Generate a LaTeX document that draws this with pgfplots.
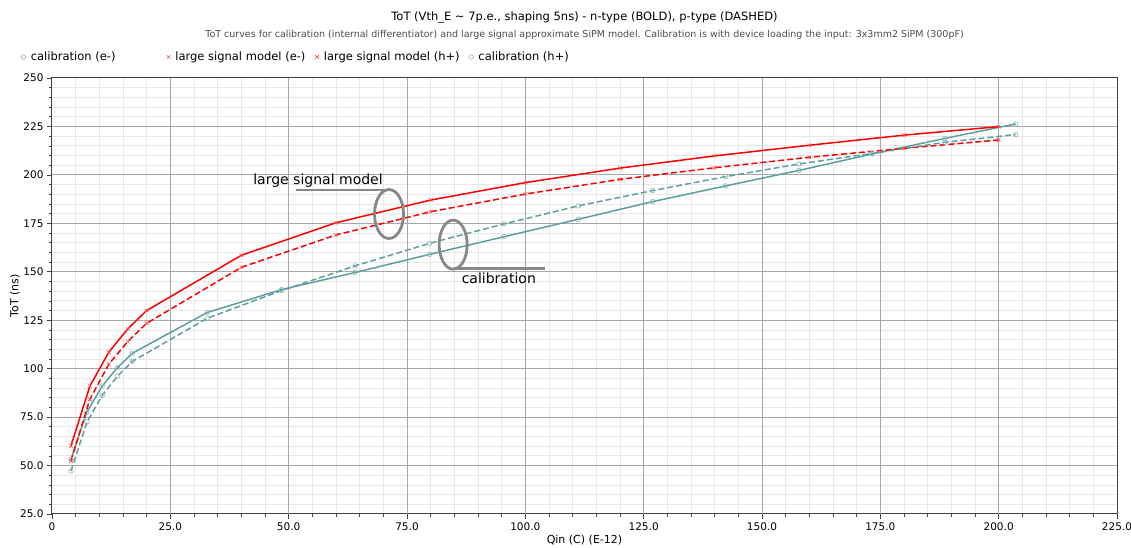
\documentclass[border=0pt]{standalone}
\usepackage{fontspec}
\setmainfont{DejaVu Sans}
\usepackage{pgfplots}
\pgfplotsset{compat=1.18}

\definecolor{calib}{HTML}{5F9EA0}
\definecolor{majgrid}{HTML}{A8A8A8}
\definecolor{mingrid}{HTML}{E8E8E8}
\definecolor{annot}{HTML}{888888}

\begin{document}
\begin{tikzpicture}
\begin{axis}[
    at={(0pt,0pt)}, anchor=south west,
    scale only axis, width=1065pt, height=436pt,
    xmin=0, xmax=225, ymin=25, ymax=250,
    xtick={0,25,...,225},
    xticklabels={0,25.0,50.0,75.0,100.0,125.0,150.0,175.0,200.0,225.0},
    ytick={25,50,...,250},
    yticklabels={25.0,50.0,75.0,100,125,150,175,200,225,250},
    minor tick num=4,
    xminorgrids, yminorgrids,
    minor grid style={mingrid, line width=0.8pt},
    % major grid lines as extra ticks so they are drawn over the minor ones
    extra x ticks={25,50,...,200},
    extra y ticks={50,75,...,225},
    extra tick style={grid=major, major grid style={majgrid, line width=0.8pt},
        xticklabels={}, yticklabels={}, major tick length=0pt},
    axis line style={black!75, line width=1pt},
    tick align=outside, tick pos=left,
    major tick length=5pt, minor tick length=3pt,
    tick style={black!75, line width=0.6pt},
    tick label style={font=\fontsize{10.5}{12}\selectfont},
    xlabel={Qin (C) (E-12)}, ylabel={ToT (ns)},
    label style={font=\fontsize{11}{13}\selectfont},
    x label style={at={(axis description cs:0.5,-0.0596)}, anchor=center},
    y label style={at={(axis description cs:-0.0347,0.5)}, anchor=center},
    legend columns=4,
    legend image code/.code={\draw[#1,only marks] plot coordinates {(0pt,0pt)};},
    legend style={draw=none, fill=none, at={(0,1)}, anchor=west,
        xshift=-34pt, yshift=21pt, font=\fontsize{11.5}{13}\selectfont,
        nodes={inner xsep=0pt, inner ysep=1pt}, column sep=5pt},
]
% calibration, n-type
\addplot[calib, line width=1.5pt, mark=o,
    mark options={solid, line width=0.6pt, calib!75, mark size=2.3pt}]
    coordinates {
    (4,53.2) (7.3,77.3) (10.6,91) (13.8,100.5) (17,108) (32.8,129)
    (48.5,140.8) (64,149.6) (79.8,159) (95.5,168.1) (111.2,177.1)
    (126.9,186.2) (142.3,194.3) (157.8,202.3) (173.3,210.8)
    (188.6,218.8) (203.6,226.3)
};
\addlegendentry{\makebox[131pt][l]{calibration (e-)}}
% large signal model, n-type
\addplot[red, line width=1.5pt, mark=x,
    mark options={solid, line width=0.6pt, red!70, mark size=2.5pt}]
    coordinates {
    (4,60.1) (8,91) (12,108.5) (16,120.5) (20,130) (40,158.5)
    (60,175.3) (80,187) (100,196) (120,203.5) (140,209.8)
    (160,215.3) (180,220.5) (200,224.9)
};
\addlegendentry{\makebox[135pt][l]{large signal model (e-)}}
% large signal model, p-type
\addplot[red, line width=1.5pt, dash pattern=on 6pt off 3pt, mark=x,
    mark options={solid, line width=0.6pt, red!70, mark size=2.5pt}]
    coordinates {
    (4,52.4) (8,84.2) (12,102.3) (16,114) (20,123.4) (40,152.3)
    (60,169) (80,181) (100,190.1) (120,197.7) (140,203.7)
    (160,209.1) (180,213.7) (200,218)
};
\addlegendentry{\makebox[140pt][l]{large signal model (h+)}}
% calibration, p-type
\addplot[calib, line width=1.5pt, dash pattern=on 6pt off 3pt, mark=o,
    mark options={solid, line width=0.6pt, calib!75, mark size=2.3pt}]
    coordinates {
    (4,47.2) (7.4,72.5) (10.6,86.2) (13.9,96.3) (17,103.8) (32.8,126)
    (48.5,140.3) (64,153) (79.8,164.7) (95.5,174.7) (111.2,184)
    (126.9,191.9) (142.3,199.1) (157.8,205.6) (173.3,211.1)
    (188.6,216.8) (203.6,220.8)
};
\addlegendentry{calibration (h+)}

% annotations
\draw[annot, line width=2.8pt] (axis cs:71.2,179.8) ellipse [x radius=14.5pt, y radius=24.5pt];
\draw[annot, line width=2.5pt] (axis cs:51.5,192.2) -- (axis cs:70.5,192.2);
\node[font=\fontsize{14}{16}\selectfont] at (axis cs:56.2,196.8) {large signal model};
\draw[annot, line width=2.8pt] (axis cs:84.75,164) ellipse [x radius=14pt, y radius=24.5pt];
\draw[annot, line width=2.5pt] (axis cs:84.9,151.8) -- (axis cs:104.1,151.8);
\node[font=\fontsize{14}{16}\selectfont] at (axis cs:94.4,146.5) {calibration};
\end{axis}

\node[font=\fontsize{11.5}{13}\selectfont] at (532.5pt,497pt)
    {ToT (Vth\_E \textasciitilde\ 7p.e., shaping 5ns) - n-type (BOLD), p-type (DASHED)};
\node[font=\fontsize{9.5}{11}\selectfont, text=black!70] at (532.5pt,479pt)
    {ToT curves for calibration (internal differentiator) and large signal approximate SiPM model. Calibration is with device loading the input: 3x3mm2 SiPM (300pF)};

\pgfresetboundingbox
\path[use as bounding box] (-52pt,-34pt) rectangle (1079pt,514pt);
\end{tikzpicture}
\end{document}
